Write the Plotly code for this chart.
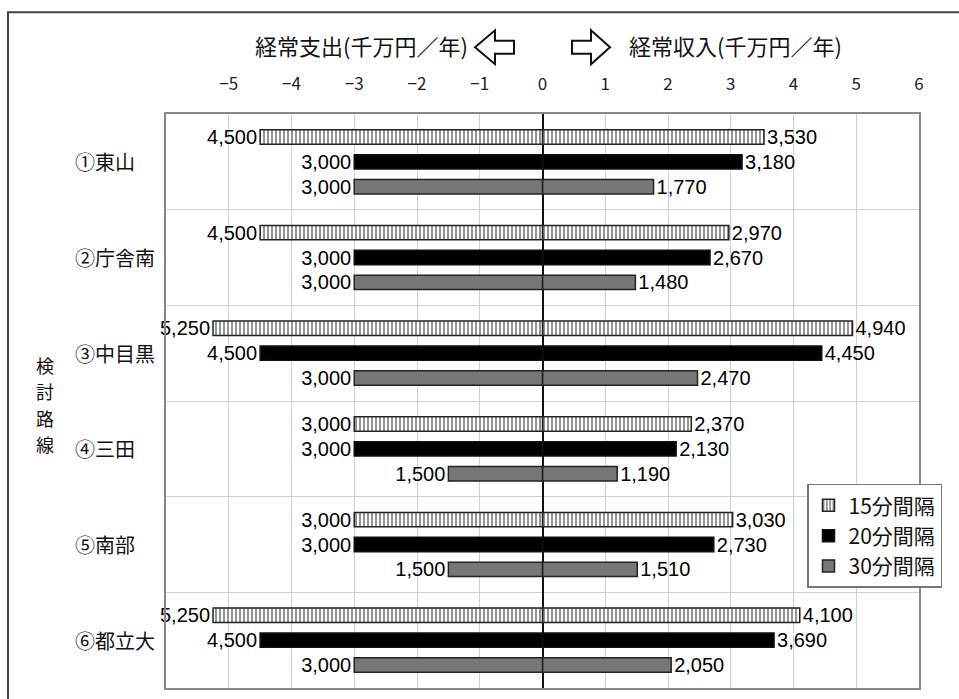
import plotly.graph_objects as go

# ---- data ----
routes = ["①東山", "②庁舎南", "③中目黒", "④三田", "⑤南部", "⑥都立大"]
series_names = ["15分間隔", "20分間隔", "30分間隔"]
# 経常支出 (shown to the left, as negative values)
expense_15 = [4500, 4500, 5250, 3000, 3000, 5250]
expense_20 = [3000, 3000, 4500, 3000, 3000, 4500]
expense_30 = [3000, 3000, 3000, 1500, 1500, 3000]
# 経常収入 (shown to the right)
income_15 = [3530, 2970, 4940, 2370, 3030, 4100]
income_20 = [3180, 2670, 4450, 2130, 2730, 3690]
income_30 = [1770, 1480, 2470, 1190, 1510, 2050]
x_ticks = [-5, -4, -3, -2, -1, 0, 1, 2, 3, 4, 5, 6]
y_title = "検討路線"

FONT = "Noto Sans CJK JP"
NUMFONT = "Liberation Sans"
W, H = 959, 699
L, R, T, B = 166, 919, 114, 690


def px(x):
    return (x - L) / (R - L)


def py(y):
    return (B - y) / (B - T)


styles = [
    dict(color="white", line=dict(color="#222", width=1.5),
         pattern=dict(shape="|", size=4, solidity=0.45, fgcolor="#111", fillmode="overlay")),
    dict(color="#000000", line=dict(color="#111", width=1.5)),
    dict(color="#777777", line=dict(color="#222", width=1.5)),
]
offsets = [-0.26, 0.0, 0.26]
bar_w = 0.15

fig = go.Figure()
expenses = [expense_15, expense_20, expense_30]
incomes = [income_15, income_20, income_30]
for i, name in enumerate(series_names):
    for j, vals in enumerate([incomes[i], expenses[i]]):
        sign = 1 if j == 0 else -1
        fig.add_trace(go.Bar(
            y=routes,
            x=[sign * v / 1000 for v in vals],
            orientation="h",
            name=name,
            legendgroup=name,
            showlegend=(j == 0),
            width=bar_w,
            offset=offsets[i] - bar_w / 2,
            marker=styles[i],
            text=[f"{v:,}" for v in vals],
            textposition="outside",
            textfont=dict(family=NUMFONT, size=20, color="#000"),
            constraintext="none",
            cliponaxis=False,
            hoverinfo="skip",
        ))

fig.update_layout(
    width=W, height=H,
    margin=dict(l=L, r=W - R, t=T, b=H - B),
    barmode="overlay",
    plot_bgcolor="white",
    paper_bgcolor="white",
    font=dict(family=FONT, color="#111"),
    legend=dict(
        x=px(807), y=py(485), xanchor="left", yanchor="top",
        bgcolor="white", bordercolor="#777", borderwidth=1.5,
        font=dict(family=FONT, size=21, color="#111"),
        traceorder="grouped", tracegroupgap=0,
    ),
    xaxis=dict(
        range=[-6, 6], side="top",
        tickvals=x_ticks,
        tickfont=dict(family=FONT, size=17, color="#222"),
        ticklabelstandoff=15,
        showgrid=True, gridcolor="#d0d0d0", gridwidth=1,
        zeroline=True, zerolinecolor="#111", zerolinewidth=2,
        showline=True, linecolor="#888", linewidth=1.5, mirror=True,
        ticks="",
    ),
    yaxis=dict(
        type="category", categoryorder="array", categoryarray=routes,
        range=[5.5, -0.5],
        showticklabels=False, ticks="",
        tickson="boundaries",
        showgrid=True, gridcolor="#d0d0d0", gridwidth=1,
        showline=True, linecolor="#888", linewidth=1.5, mirror=True,
    ),
)

annotations = []
for r in routes:
    annotations.append(dict(
        x=px(73), xref="paper", y=r, yref="y", text=r, showarrow=False,
        xanchor="left", yanchor="middle",
        font=dict(family=FONT, size=20, color="#111"),
    ))
# vertical axis title, one character per line
for k, ch in enumerate(y_title):
    annotations.append(dict(
        x=px(45), xref="paper", y=py(366 + 26.3 * k), yref="paper",
        text=ch, showarrow=False,
        xanchor="center", yanchor="middle",
        font=dict(family=FONT, size=18, color="#111"),
    ))
annotations.append(dict(
    x=px(470), xref="paper", y=py(45), yref="paper",
    text="経常支出(千万円／年)", showarrow=False,
    xanchor="right", yanchor="middle",
    font=dict(family=FONT, size=22, color="#111"),
))
annotations.append(dict(
    x=px(627), xref="paper", y=py(45), yref="paper",
    text="経常収入(千万円／年)", showarrow=False,
    xanchor="left", yanchor="middle",
    font=dict(family=FONT, size=22, color="#111"),
))
fig.update_layout(annotations=annotations)


def path(points):
    return "M " + " L ".join(f"{px(a):.5f},{py(b):.5f}" for a, b in points) + " Z"


cy = 47
left_arrow = [(475, cy), (495, cy - 17), (495, cy - 6.5), (514, cy - 6.5),
              (514, cy + 6.5), (495, cy + 6.5), (495, cy + 17)]
right_arrow = [(610, cy), (591, cy - 17), (591, cy - 6.5), (572, cy - 6.5),
               (572, cy + 6.5), (591, cy + 6.5), (591, cy + 17)]
shapes = [
    dict(type="rect", xref="paper", yref="paper",
         x0=px(8), y0=py(12), x1=px(965), y1=py(705),
         line=dict(color="#444", width=2), fillcolor="rgba(0,0,0,0)", layer="below"),
    dict(type="path", xref="paper", yref="paper", path=path(left_arrow),
         line=dict(color="#111", width=2), fillcolor="white"),
    dict(type="path", xref="paper", yref="paper", path=path(right_arrow),
         line=dict(color="#111", width=2), fillcolor="white"),
]
fig.update_layout(shapes=shapes)

fig.write_html("out.html")
